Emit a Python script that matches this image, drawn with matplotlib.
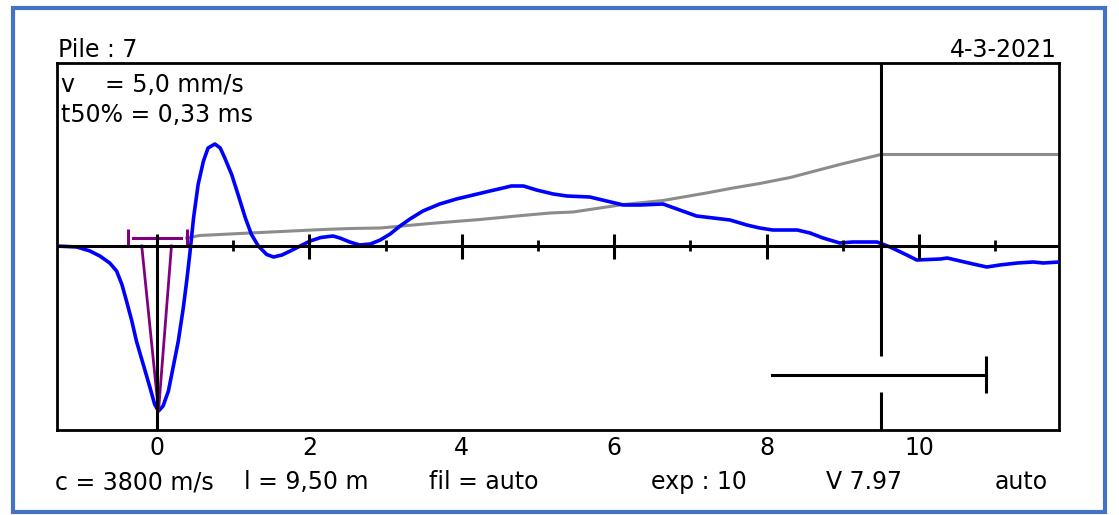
import numpy as np
import matplotlib
matplotlib.use('Agg')
import matplotlib.pyplot as plt
from matplotlib.patches import Rectangle

plt.rcParams['font.family'] = ['DejaVu Sans']

# Сигнал скорости (синяя кривая), время в мс / условная амплитуда
t_sig = [-1.32, -1.05, -0.88, -0.75, -0.62, -0.53, -0.46, -0.40, -0.33, -0.27,
         -0.18, -0.09, -0.03, 0.02, 0.08, 0.15, 0.21, 0.28, 0.345, 0.39,
         0.43, 0.48, 0.54, 0.61, 0.67, 0.76, 0.83, 0.89, 0.98, 1.07,
         1.16, 1.24, 1.33, 1.44, 1.53, 1.64, 1.75, 1.88, 2.01, 2.15,
         2.31, 2.40, 2.53, 2.66, 2.80, 2.93,
         3.06, 3.19, 3.32, 3.49, 3.71, 3.93, 4.15, 4.37, 4.54, 4.65,
         4.81, 4.98, 5.20, 5.38, 5.68, 5.90, 6.12, 6.34, 6.64, 6.86,
         7.08, 7.30, 7.52, 7.74, 7.91, 8.08, 8.40, 8.57, 8.74, 8.96,
         9.13, 9.45, 9.62, 9.84, 9.97, 10.28, 10.37, 10.71, 10.89, 11.06,
         11.29, 11.50, 11.63, 11.84]
v_sig = [0.00, -0.01, -0.05, -0.10, -0.17, -0.25, -0.385, -0.55, -0.75, -0.95,
         -1.185, -1.42, -1.585, -1.65, -1.60, -1.45, -1.22, -0.95, -0.62, -0.35,
         -0.085, 0.28, 0.615, 0.85, 0.98, 1.02, 0.98, 0.88, 0.715, 0.50,
         0.28, 0.115, 0.00, -0.085, -0.11, -0.09, -0.05, 0.00, 0.05, 0.085,
         0.10, 0.08, 0.04, 0.01, 0.02, 0.06,
         0.12, 0.20, 0.27, 0.35, 0.42, 0.47, 0.51, 0.55, 0.58, 0.60,
         0.60, 0.56, 0.52, 0.50, 0.49, 0.45, 0.41, 0.41, 0.42, 0.36,
         0.30, 0.28, 0.26, 0.21, 0.18, 0.16, 0.16, 0.13, 0.08, 0.03,
         0.04, 0.04, -0.01, -0.09, -0.14, -0.13, -0.12, -0.18, -0.21, -0.19,
         -0.17, -0.16, -0.17, -0.16]

# Экспоненциальное усиление (серая кривая)
t_exp = [0.39, 0.56, 1.22, 2.18, 2.54, 2.93, 3.58, 4.24, 4.72, 5.16,
         5.46, 6.12, 6.64, 7.21, 7.56, 7.91, 8.31, 8.96, 9.50, 11.84]
g_exp = [0.08, 0.105, 0.13, 0.165, 0.175, 0.18, 0.225, 0.265, 0.30, 0.33,
         0.34, 0.415, 0.455, 0.53, 0.58, 0.625, 0.685, 0.815, 0.915, 0.915]

# Параметры
pile_len = 9.50
t50_left, t50_right = -0.20, 0.19
bracket = (-0.38, 0.40)
v_min = -1.65
t_min = 0.02
scale_bar = (8.07, 10.88)

major_ticks = [2, 4, 6, 8, 10]
minor_ticks = [1, 3, 5, 7, 9, 11]
label_ticks = [0, 2, 4, 6, 8, 10]

W, H = 1119, 515
fig = plt.figure(figsize=(W / 100, H / 100), dpi=100)
ax = fig.add_axes([57 / W, 1 - 430 / H, (1059 - 57) / W, (430 - 63) / H])
ax.set_xlim(-1.312, 11.837)
ax.set_ylim(-1.84, 1.83)

ax.plot(t_exp, g_exp, color='#8c8c8c', lw=2.2, zorder=2)
ax.plot(t_sig, v_sig, color='#0000ff', lw=2.6, zorder=3,
        solid_joinstyle='round', solid_capstyle='round')

# t50% маркер
purple = '#800080'
ax.plot([t50_left, t_min, t50_right], [0, v_min, 0], color=purple, lw=2.0, zorder=4)
ax.plot([bracket[0] + 0.07, bracket[1] - 0.09], [0.075, 0.075], color=purple, lw=2.2, zorder=4)
ax.vlines(bracket, -0.015, 0.165, color=purple, lw=2.2, zorder=4)

# Оси и метки
ax.axhline(0, color='black', lw=2.2, zorder=5)
ax.vlines(0, -1.84, 0.115, color='black', lw=2.2, zorder=5)
ax.vlines(major_ticks, -0.13, 0.115, color='black', lw=2.2, zorder=5)
ax.vlines(minor_ticks, -0.05, 0.055, color='black', lw=2.0, zorder=5)

# Длина сваи и масштаб
ax.vlines(pile_len, -1.105, 1.83, color='black', lw=2.2, zorder=5)
ax.vlines(pile_len, -1.84, -1.455, color='black', lw=2.2, zorder=5)
ax.plot(scale_bar, [-1.295, -1.295], color='black', lw=2.2, zorder=5)
ax.vlines(scale_bar[1], -1.465, -1.105, color='black', lw=2.2, zorder=5)

ax.set_yticks([])
ax.set_xticks(label_ticks)
ax.set_xticklabels([str(v) for v in label_ticks])
ax.tick_params(axis='x', length=0, pad=4, labelsize=17)
for s in ax.spines.values():
    s.set_linewidth(2.0)
    s.set_color('black')

def fx(px):
    return px / W

def fy(py):
    return 1 - py / H

fs = 17
fig.text(fx(58), fy(57), 'Pile : 7', fontsize=fs, va='baseline', ha='left')
fig.text(fx(1057), fy(57), '4-3-2021', fontsize=fs, va='baseline', ha='right')
fig.text(fx(61), fy(92), 'v    = 5,0 mm/s', fontsize=fs, va='baseline', ha='left')
fig.text(fx(61), fy(122), 't50% = 0,33 ms', fontsize=fs, va='baseline', ha='left')

fig.text(fx(55), fy(489), 'c = 3800 m/s', fontsize=fs, va='baseline', ha='left')
fig.text(fx(306), fy(489), 'l = 9,50 m', fontsize=fs, va='baseline', ha='center')
fig.text(fx(484), fy(489), 'fil = auto', fontsize=fs, va='baseline', ha='center')
fig.text(fx(699), fy(489), 'exp : 10', fontsize=fs, va='baseline', ha='center')
fig.text(fx(864), fy(489), 'V 7.97', fontsize=fs, va='baseline', ha='center')
fig.text(fx(1048), fy(489), 'auto', fontsize=fs, va='baseline', ha='right')

# Синяя рамка
fig.patches.append(Rectangle((fx(13), fy(512)), fx(1105) - fx(13), fy(8) - fy(512),
                             transform=fig.transFigure, fill=False,
                             edgecolor='#4472c4', lw=3.0))

fig.savefig('out.png', dpi=100)
